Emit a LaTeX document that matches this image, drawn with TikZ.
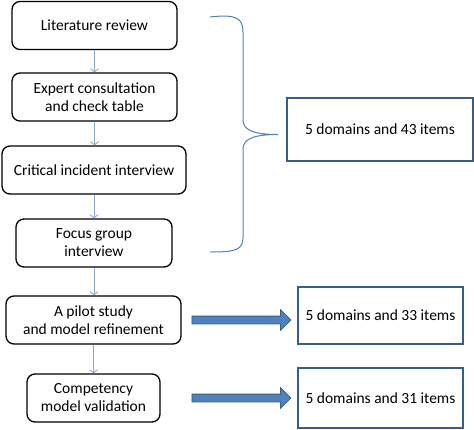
\documentclass[tikz,border=0pt]{standalone}
\usepackage{fontspec}
\setmainfont{Carlito}
\usepackage{tikz}
\usetikzlibrary{calc,arrows.meta,shapes.arrows}

\definecolor{thinblue}{RGB}{140,168,210}
\definecolor{braceblue}{RGB}{79,129,189}
\definecolor{boxblue}{RGB}{56,93,138}

\begin{document}
\begin{tikzpicture}[x=1pt,y=-1pt,
    stepbox/.style={draw=black,line width=1.3pt,rounded corners=8pt,align=center,
        font=\fontsize{15.5}{18}\selectfont,inner sep=0pt,minimum height=48pt},
    resbox/.style={draw=boxblue,line width=1.5pt,align=center,
        font=\fontsize{15.5}{18}\selectfont,inner sep=0pt},
    flowarrow/.style={draw=thinblue,line width=0.9pt,-{Straight Barb[length=3pt,width=8pt]}},
    bigarrow/.style={single arrow,fill=braceblue,draw=boxblue,line width=0.8pt,inner sep=3.5pt,
        minimum height=99pt,single arrow head extend=6.5pt,single arrow tip angle=90}]
                      \useasboundingbox (0,0) rectangle (474,429);
                      \node[stepbox,minimum width=165pt] (litrev) at (94.5,25.5) {Literature review};
                      \node[stepbox,minimum width=165pt] (expert) at (94.5,97) {Expert consultation\\and check table};
                      \node[stepbox,minimum width=184pt] (critical) at (94,170) {Critical incident interview};
                      \node[stepbox,minimum width=156pt] (focus) at (94,243) {Focus group\\interview};
                      \node[stepbox,minimum width=175pt] (pilot) at (93.5,320) {A pilot study\\and model refinement};
                      \node[stepbox,minimum width=133pt] (compet) at (93.5,398) {Competency\\model validation};
                      \foreach \a/\b in {litrev/expert,expert/critical,critical/focus,focus/pilot,pilot/compet}
                      \draw[flowarrow] (\a.south) -- (\a.south |- \b.north);
                      \node[resbox,minimum width=186pt,minimum height=63pt] (res43) at (380,129.5) {5 domains and 43 items};
                      \node[resbox,minimum width=165pt,minimum height=57pt] (res33) at (380.5,315.5) {5 domains and 33 items};
                      \node[resbox,minimum width=165pt,minimum height=60pt] (res31) at (380.5,398) {5 domains and 31 items};
                      % brace over the first four steps
                      \draw[braceblue,line width=1pt] (210,17) .. controls (236,14) and (243,18) .. (243,32) -- (243,120)
                          .. controls (243,131) and (256,134.5) .. (278,134.5)
                          .. controls (256,134.5) and (243,138) .. (243,149) -- (243,237)
                          .. controls (243,250) and (236,252) .. (210,252);
                      \path (pilot.east) -- (pilot.east -| res33.west) node[midway,bigarrow] {};
                      \path (compet.east -| pilot.east) -- (compet.east -| res31.west) node[midway,bigarrow] {};
                  \end{tikzpicture}
\end{document}
